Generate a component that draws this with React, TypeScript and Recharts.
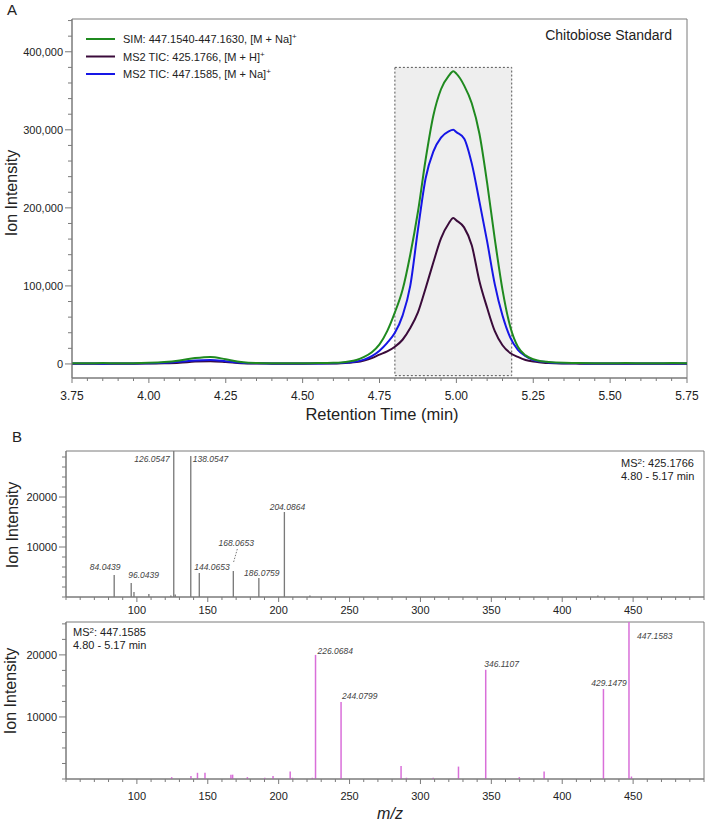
import React from "react";
import { Bar, BarChart, LabelList, Line, LineChart, ReferenceArea, XAxis, YAxis } from "recharts";

const FONT = '"Liberation Sans", Arial, Helvetica, sans-serif';
const AXIS = "#7a7a7a";
const TEXT = "#222";

// ---- A: extracted ion chromatograms ----
const retentionTimes = [
  3.75, 3.8, 3.85, 3.9, 3.95, 4.0, 4.05, 4.1, 4.15, 4.2, 4.25, 4.3, 4.35, 4.4, 4.45, 4.5, 4.55, 4.6,
  4.625, 4.65, 4.675, 4.7, 4.725, 4.75, 4.775, 4.8, 4.825, 4.85, 4.875, 4.9, 4.925, 4.95, 4.975, 4.99,
  5.0, 5.025, 5.05, 5.075, 5.1, 5.125, 5.15, 5.175, 5.2, 5.225, 5.25, 5.275, 5.3, 5.35, 5.4, 5.45, 5.5,
  5.55, 5.6, 5.65, 5.7, 5.75,
];
const simTrace = [
  1000, 800, 1200, 900, 1000, 1500, 2500, 4500, 7500, 9000, 6000, 2500, 1200, 1000, 800, 1000, 1100, 1500,
  2000, 3000, 5000, 9000, 15000, 25000, 42000, 66000, 95000, 140000, 195000, 262000, 318000, 352000, 369000, 375000,
  372000, 357000, 334000, 295000, 232000, 160000, 95000, 48000, 22000, 11000, 6000, 3500, 2500, 1500, 1200, 1000, 900,
  1100, 1000, 900, 1200, 1000,
];
const ms2HTrace = [
  300, 400, 300, 400, 300, 500, 800, 1500, 3000, 3500, 2500, 1000, 500, 400, 300, 400, 500, 600,
  900, 1500, 2500, 4500, 7500, 12000, 16000, 22000, 31000, 46000, 66000, 97000, 130000, 161000, 180000, 187000,
  184000, 175000, 152000, 106000, 72000, 42000, 24000, 14000, 9000, 5000, 3000, 2000, 1200, 600, 400, 300, 400,
  300, 400, 300, 400, 300,
];
const ms2NaTrace = [
  500, 600, 400, 500, 600, 900, 1500, 2800, 4500, 5000, 3500, 1500, 800, 600, 500, 600, 700, 900,
  1200, 2000, 3000, 5500, 10000, 17000, 27000, 40000, 62000, 100000, 172000, 238000, 272000, 290000, 298000, 300000,
  297000, 289000, 257000, 208000, 157000, 102000, 62000, 34000, 18000, 10000, 5000, 3000, 2000, 1000, 800, 600, 500,
  700, 600, 500, 600, 500,
];
const traceNames = ["SIM: 447.1540-447.1630, [M + Na]", "MS2 TIC: 425.1766, [M + H]", "MS2 TIC: 447.1585, [M + Na]"];
const traceColors = ["#1f8a1f", "#3a0b3a", "#1616e6"];
const rtMajorTicks = [3.75, 4.0, 4.25, 4.5, 4.75, 5.0, 5.25, 5.5, 5.75];
const chromMajorTicks = [0, 100000, 200000, 300000, 400000];
const scanWindow = [4.8, 5.18];

// ---- B: MS2 spectra ----
const hMz = [84.0439, 96.0439, 98.0, 108.5, 124.0, 126.0547, 127.1, 138.0547, 144.0653, 168.0653, 186.0759, 204.0864, 222.1, 425.2];
const hIntensity = [4400, 2800, 1000, 600, 300, 29200, 500, 28200, 4800, 5200, 3800, 17000, 300, 300];
const hLabels = ["84.0439", "96.0439", "", "", "", "126.0547", "", "138.0547", "144.0653", "168.0653", "186.0759", "204.0864", "", ""];

const naMz = [
  124.6, 138.2, 142.8, 148.1, 166.4, 167.6, 178.0, 190.3, 196.1, 208.2, 209.8, 223.8, 226.0684, 244.0799,
  286.4, 290.2, 309.1, 326.9, 346.1107, 369.8, 387.3, 429.1479, 447.1583, 448.9,
];
const naIntensity = [
  300, 500, 1000, 1000, 700, 700, 300, 200, 500, 1200, 200, 200, 20000, 12400,
  2100, 200, 200, 2000, 17600, 300, 1200, 14500, 25300, 400,
];
const naLabels = [
  "", "", "", "", "", "", "", "", "", "", "", "", "226.0684", "244.0799",
  "", "", "", "", "346.1107", "", "", "429.1479", "447.1583", "",
];
const mzMajorTicks = [100, 150, 200, 250, 300, 350, 400, 450];
const specMajorTicks = [10000, 20000];

// label placement (pixels relative to peak top / line centre)
const labelPlacement: Record<string, { anchor: "start" | "middle" | "end"; dx: number; dy: number; leader?: boolean }> = {
  "84.0439": { anchor: "middle", dx: -9, dy: -5 },
  "96.0439": { anchor: "start", dx: -3, dy: -5 },
  "126.0547": { anchor: "end", dx: -4, dy: 11 },
  "138.0547": { anchor: "start", dx: 2, dy: 6 },
  "144.0653": { anchor: "start", dx: -5, dy: -3 },
  "168.0653": { anchor: "middle", dx: 3, dy: -25, leader: true },
  "186.0759": { anchor: "middle", dx: 3, dy: -2 },
  "204.0864": { anchor: "middle", dx: 3, dy: -2 },
  "226.0684": { anchor: "start", dx: 2, dy: -1 },
  "244.0799": { anchor: "start", dx: 1, dy: -3 },
  "346.1107": { anchor: "start", dx: -1.5, dy: -3 },
  "429.1479": { anchor: "middle", dx: 5.5, dy: -3 },
  "447.1583": { anchor: "start", dx: 8, dy: 17 },
};

const steps = (from: number, to: number, step: number) => {
  const n = Math.round((to - from) / step);
  return Array.from({ length: n + 1 }, (_, i) => Math.round((from + i * step) * 1e6) / 1e6);
};

const chromData = retentionTimes.map((t, i) => ({ t, sim: simTrace[i], h: ms2HTrace[i], na: ms2NaTrace[i] }));
const hData = hMz.map((mz, i) => ({ mz, intensity: hIntensity[i], label: hLabels[i] }));
const naData = naMz.map((mz, i) => ({ mz, intensity: naIntensity[i], label: naLabels[i] }));

const isMajor = (majors: number[], v: number) => majors.some((m) => Math.abs(m - v) < 1e-6);

function bottomTick(majors: number[], gap: number, fontSize: number, fmt: (v: number) => string) {
  return (p: any) => {
    const v = p.payload.value;
    const major = isMajor(majors, v);
    return (
      <g>
        <line x1={p.x} x2={p.x} y1={p.y} y2={p.y + (major ? 5 : 3)} stroke={AXIS} />
        {major && (
          <text x={p.x} y={p.y + gap} textAnchor="middle" fontSize={fontSize} fill={TEXT} fontFamily={FONT}>
            {fmt(v)}
          </text>
        )}
      </g>
    );
  };
}

function leftTick(majors: number[], majorLen: number, minorLen: number, fontSize: number, fmt: (v: number) => string) {
  return (p: any) => {
    const v = p.payload.value;
    const major = isMajor(majors, v);
    return (
      <g>
        <line x1={p.x - (major ? majorLen : minorLen)} x2={p.x} y1={p.y} y2={p.y} stroke={AXIS} />
        {major && (
          <text x={p.x - 9} y={p.y} dy="0.35em" textAnchor="end" fontSize={fontSize} fill={TEXT} fontFamily={FONT}>
            {fmt(v)}
          </text>
        )}
      </g>
    );
  };
}

const peakLabel = (props: any) => {
  const value = props.value;
  if (!value) return null;
  const vb = props.viewBox && props.viewBox.width !== undefined ? props.viewBox : props;
  const cx = vb.x + vb.width / 2;
  const top = vb.y;
  const pl = labelPlacement[value] ?? { anchor: "middle", dx: 0, dy: -3 };
  return (
    <g>
      {pl.leader && (
        <line x1={cx + pl.dx + 1} y1={top + pl.dy + 3} x2={cx} y2={top - 8} stroke="#555" strokeWidth={0.8} strokeDasharray="1.5 1.5" />
      )}
      <text x={cx + pl.dx} y={top + pl.dy} textAnchor={pl.anchor} fontSize={8.5} fontStyle="italic" fill="#444" fontFamily={FONT}>
        {value}
      </text>
    </g>
  );
};

function Spectrum({ data, yMax, minorY, color, labelGap }: { data: any[]; yMax: number; minorY: number; color: string; labelGap: number }) {
  return (
    <BarChart width={706} height={data === hData ? 182 : 192} data={data} margin={{ top: data === hData ? 11 : 10, right: 2, bottom: 0, left: 0 }}>
      <XAxis
        dataKey="mz"
        type="number"
        domain={[50, 500]}
        allowDataOverflow
        ticks={steps(50, 500, 10)}
        interval={0}
        tickLine={false}
        tickSize={0}
        tickMargin={0}
        height={25}
        axisLine={{ stroke: AXIS }}
        tick={bottomTick(mzMajorTicks, labelGap, 11, (v) => String(v))}
      />
      <YAxis
        type="number"
        domain={[0, yMax]}
        allowDataOverflow
        ticks={steps(0, Math.floor(yMax / minorY) * minorY, minorY)}
        interval={0}
        tickLine={false}
        tickSize={0}
        tickMargin={0}
        width={66}
        axisLine={{ stroke: AXIS }}
        tick={leftTick(specMajorTicks, 7, 4, 11, (v) => String(v))}
      />
      <Bar dataKey="intensity" fill={color} barSize={1.5} isAnimationActive={false}>
        <LabelList dataKey="label" content={peakLabel} />
      </Bar>
      <ReferenceArea x1={50} x2={500} y1={0} y2={yMax} fill="none" stroke={AXIS} ifOverflow="visible" />
    </BarChart>
  );
}

function Sup({ children, size = 8, shift = 4 }: { children: React.ReactNode; size?: number; shift?: number }) {
  return (
    <tspan dy={-shift} fontSize={size}>
      {children}
    </tspan>
  );
}

export default function App() {
  const legendRows = [39, 56.5, 74];
  return (
    <div style={{ position: "absolute", left: 0, top: 0, width: 706, height: 820, background: "#fff", fontFamily: FONT }}>
      <div style={{ position: "absolute", left: 0, top: 0 }}>
        <LineChart width={706} height={420} data={chromData} margin={{ top: 19, right: 19, bottom: 12, left: 10 }}>
          <ReferenceArea
            x1={scanWindow[0]}
            x2={scanWindow[1]}
            y1={-15000}
            y2={380000}
            fill="#eeeeee"
            fillOpacity={1}
            stroke="#555"
            strokeDasharray="2 2"
            ifOverflow="visible"
          />
          <XAxis
            dataKey="t"
            type="number"
            domain={[3.75, 5.75]}
            allowDataOverflow
            ticks={steps(3.75, 5.75, 0.05)}
            interval={0}
            tickLine={false}
            tickSize={0}
            tickMargin={0}
            height={30}
            axisLine={{ stroke: AXIS }}
            tick={bottomTick(rtMajorTicks, 22, 12, (v) => v.toFixed(2))}
          />
          <YAxis
            type="number"
            domain={[-18000, 442000]}
            allowDataOverflow
            ticks={steps(0, 440000, 20000)}
            interval={0}
            tickLine={false}
            tickSize={0}
            tickMargin={0}
            width={62}
            axisLine={{ stroke: AXIS }}
            tick={leftTick(chromMajorTicks, 7, 4, 11, (v) => v.toLocaleString("en-US"))}
          />
          <Line dataKey="h" type="monotone" stroke={traceColors[1]} strokeWidth={2} dot={false} isAnimationActive={false} />
          <Line dataKey="na" type="monotone" stroke={traceColors[2]} strokeWidth={2} dot={false} isAnimationActive={false} />
          <Line dataKey="sim" type="monotone" stroke={traceColors[0]} strokeWidth={2} dot={false} isAnimationActive={false} />
          <ReferenceArea x1={3.75} x2={5.75} y1={-18000} y2={442000} fill="none" stroke={AXIS} ifOverflow="visible" />
        </LineChart>
      </div>

      <div style={{ position: "absolute", left: 0, top: 440 }}>
        <Spectrum data={hData} yMax={29200} minorY={2000} color="#7a7a7a" labelGap={17} />
      </div>
      <div style={{ position: "absolute", left: 0, top: 612 }}>
        <Spectrum data={naData} yMax={25300} minorY={2500} color="#d96fd9" labelGap={21} />
      </div>

      <svg width={706} height={820} style={{ position: "absolute", left: 0, top: 0, pointerEvents: "none" }} fontFamily={FONT}>
        <text x={7} y={15} fontSize={15} fill={TEXT}>A</text>
        <text x={12} y={442} fontSize={15} fill={TEXT}>B</text>

        {[
          [11, 193],
          [12, 525],
          [10, 691],
        ].map(([cx, cy], i) => (
          <text key={i} x={cx} y={cy} fontSize={16} fill={TEXT} textAnchor="middle" dominantBaseline="central" transform={`rotate(-90 ${cx} ${cy})`}>
            Ion Intensity
          </text>
        ))}
        <text x={382} y={414} fontSize={16.5} fill={TEXT} textAnchor="middle" dominantBaseline="central">
          Retention Time (min)
        </text>
        <text x={390} y={813} fontSize={16} fontStyle="italic" fill={TEXT} textAnchor="middle" dominantBaseline="central">
          m/z
        </text>

        <text x={672} y={40} fontSize={14} fill={TEXT} textAnchor="end">
          Chitobiose Standard
        </text>

        {traceNames.map((name, i) => (
          <g key={name}>
            <line x1={86} x2={115} y1={legendRows[i]} y2={legendRows[i]} stroke={traceColors[i]} strokeWidth={2} />
            <text x={123} y={legendRows[i] + 4} fontSize={11} fill={TEXT}>
              {name}
              <Sup size={8} shift={4}>+</Sup>
            </text>
          </g>
        ))}

        <text x={621} y={467} fontSize={11} fill={TEXT}>
          MS<Sup size={8} shift={3}>2</Sup>
          <tspan dy={3}>: 425.1766</tspan>
        </text>
        <text x={621} y={480} fontSize={11} fill={TEXT}>4.80 - 5.17 min</text>

        <text x={73} y={636} fontSize={11} fill={TEXT}>
          MS<Sup size={8} shift={3}>2</Sup>
          <tspan dy={3}>: 447.1585</tspan>
        </text>
        <text x={73} y={649} fontSize={11} fill={TEXT}>4.80 - 5.17 min</text>
      </svg>
    </div>
  );
}
